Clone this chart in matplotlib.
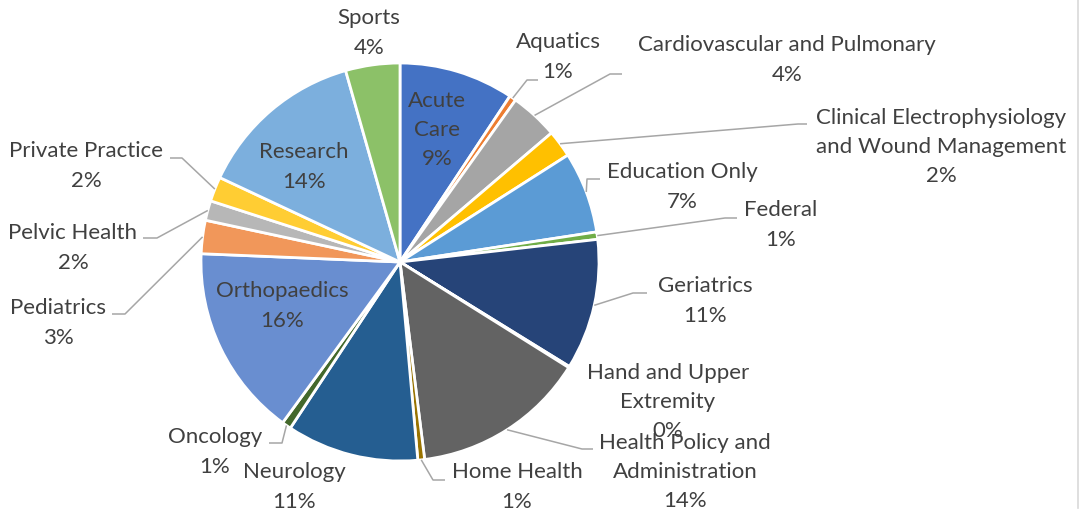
import numpy as np
import matplotlib
matplotlib.use('Agg')
import matplotlib.pyplot as plt

# Data: share of specialties (%), clockwise from 12 o'clock
labels = ['Acute Care', 'Aquatics', 'Cardiovascular and Pulmonary',
          'Clinical Electrophysiology and Wound Management', 'Education Only',
          'Federal', 'Geriatrics', 'Hand and Upper Extremity',
          'Health Policy and Administration', 'Home Health', 'Neurology',
          'Oncology', 'Orthopaedics', 'Pediatrics', 'Pelvic Health',
          'Private Practice', 'Research', 'Sports']
values = [9.3, 0.55, 3.9, 2.2, 6.6, 0.6, 10.6, 0.1, 14.1, 0.55, 10.7,
          0.75, 15.6, 2.7, 1.6, 2.0, 13.6, 4.4]
colors = ['#4472C4', '#ED7D31', '#A5A5A5', '#FFC000', '#5B9BD5', '#70AD47',
          '#264478', '#9E480E', '#636363', '#997300', '#255E91', '#43682B',
          '#698ED0', '#F1975A', '#B7B7B7', '#FFCD33', '#7CAFDD', '#8CC168']

# label text as displayed (line breaks like the original)
shown = {
    'Acute Care': 'Acute\nCare',
    'Clinical Electrophysiology and Wound Management': 'Clinical Electrophysiology\nand Wound Management',
    'Hand and Upper Extremity': 'Hand and Upper\nExtremity',
    'Health Policy and Administration': 'Health Policy and\nAdministration',
}

W, H = 1090, 514
CX, CY, R = 400, 262, 199
TXT = '#404040'
LINE = '#A6A6A6'

# label centre positions (pixels from top-left) and leader-line elbows
label_pos = {
    'Acute Care': (437, 130), 'Research': (304, 167), 'Orthopaedics': (282, 306),
    'Sports': (369, 33), 'Aquatics': (558, 57),
    'Cardiovascular and Pulmonary': (787, 60),
    'Clinical Electrophysiology and Wound Management': (941, 147),
    'Education Only': (682, 187), 'Federal': (781, 225), 'Geriatrics': (705, 301),
    'Hand and Upper Extremity': (668, 402),
    'Health Policy and Administration': (685, 472), 'Home Health': (517, 487),
    'Neurology': (294, 487), 'Oncology': (215, 452), 'Pediatrics': (58, 323),
    'Pelvic Health': (73, 248), 'Private Practice': (86, 166),
}
elbows = {
    'Aquatics': [(527, 80), (538, 80)],
    'Cardiovascular and Pulmonary': [(610, 74), (622, 74)],
    'Clinical Electrophysiology and Wound Management': [(798, 124), (807, 124)],
    'Education Only': [(587, 179), (600, 179)],
    'Federal': [(725, 218), (737, 218)],
    'Geriatrics': [(633, 293), (647, 293)],
    'Health Policy and Administration': [(582, 449), (593, 449)],
    'Home Health': [(433, 480), (445, 480)],
    'Oncology': [(282, 443), (269, 443)],
    'Pediatrics': [(125, 314), (112, 314)],
    'Pelvic Health': [(157, 238), (143, 238)],
    'Private Practice': [(182, 158), (170, 158)],
}

plt.rcParams['font.family'] = ['Lato', 'DejaVu Sans']
fig = plt.figure(figsize=(W / 100, H / 100), dpi=100)
ax = fig.add_axes([0, 0, 1, 1])

ax.pie(values, colors=colors, startangle=90, counterclock=False,
       center=(CX, H - CY), radius=R,
       wedgeprops=dict(edgecolor='white', linewidth=2))
ax.set_xlim(0, W)
ax.set_ylim(0, H)
ax.set_aspect('equal')
ax.set_axis_off()

total = sum(values)
cum = np.cumsum([0] + values[:-1])
for lab, v, c0 in zip(labels, values, cum):
    pct = '%.0f%%' % (v / total * 100)
    text = shown.get(lab, lab) + '\n' + pct
    x, y = label_pos[lab]
    ax.text(x, H - y, text, ha='center', va='center', fontsize=16,
            color=TXT, linespacing=1.58)
    if lab in elbows:
        mid = np.deg2rad(90 - (c0 + v / 2) / total * 360)
        pts = [(CX + R * np.cos(mid), H - CY + R * np.sin(mid))]
        pts += [(px, H - py) for px, py in elbows[lab]]
        xs, ys = zip(*pts)
        ax.plot(xs, ys, color=LINE, lw=1.1, solid_capstyle='butt')

# chart border on the right
ax.plot([1078, 1078], [H, 6], color='#D9D9D9', lw=1.2)

fig.savefig('out.png', dpi=100, facecolor='white')
